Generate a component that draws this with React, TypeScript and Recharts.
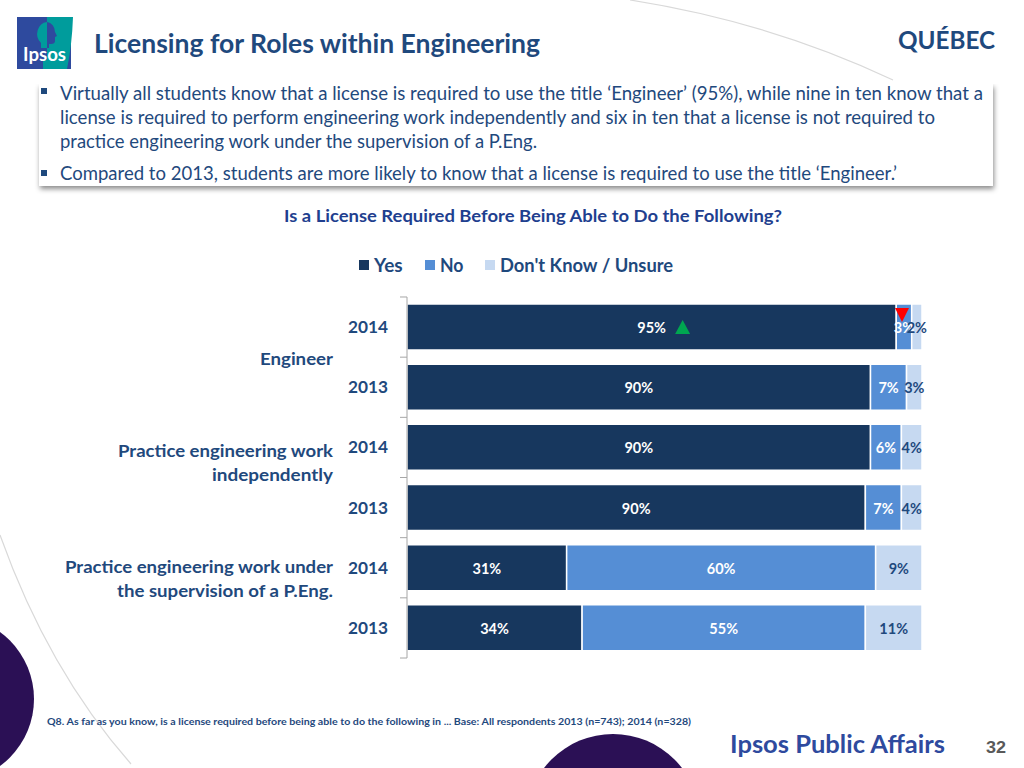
import React from 'react';
import { BarChart, Bar, XAxis, YAxis, Legend, LabelList } from 'recharts';

const ROWS = ['eng14', 'eng13', 'ind14', 'ind13', 'sup14', 'sup13'];
const YEARS = ['2014', '2013', '2014', '2013', '2014', '2013'];
const YES = [95, 90, 90, 89, 31, 34];
const NO = [3, 7, 6, 7, 60, 55];
const UNSURE = [2, 3, 4, 4, 9, 11];
// printed labels: the slide prints 90% on a bar drawn a little shorter
const YES_LABELS = [95, 90, 90, 90, 31, 34];
const NO_LABELS = NO;
const UNSURE_LABELS = UNSURE;
const UP_ROWS = ['eng14'];
const DOWN_ROWS = ['eng14'];

const tableData = ROWS.map((row, i) => ({ row, year: YEARS[i], yes: YES[i], no: NO[i], unsure: UNSURE[i] }));

const NAVY = '#17375E';
const BLUE = '#558ED5';
const PALE = '#C6D9F1';
const TEXT = '#1F497D';
const FONT = 'Lato, "Open Sans", sans-serif';
const ROW_HEIGHT = 60.17;

// svg text squeezed to the width it has in the slide (the original font is narrower than Lato)
const T = ({ x, y, w, size, bold, fill = TEXT, font = FONT, children }: any) => (
  <text x={x} y={y} textLength={w} lengthAdjust="spacingAndGlyphs" fontFamily={font} fontSize={size} fontWeight={bold ? 700 : 400} fill={fill}>
    {children}
  </text>
);

const YearTick = ({ x, y, payload, index }: any) => {
  const row = tableData.find(d => d.row === payload.value);
  return (
    <g>
      <line x1={x - 7} x2={x} y1={y - ROW_HEIGHT / 2} y2={y - ROW_HEIGHT / 2} stroke="#A6A6A6" />
      {index === ROWS.length - 1 && <line x1={x - 7} x2={x} y1={y + ROW_HEIGHT / 2} y2={y + ROW_HEIGHT / 2} stroke="#A6A6A6" />}
      <text x={x - 59} y={y + 6} textLength={40} lengthAdjust="spacingAndGlyphs" fontFamily={FONT} fontSize={17} fontWeight={700} fill={TEXT}>
        {row?.year}
      </text>
    </g>
  );
};

const makeLabel = (color: string, key: 'yes' | 'no' | 'unsure', labels: number[]) => ({ x, y, width, height, index }: any) => {
  const cx = x + width / 2;
  const cy = y + height / 2;
  const row = ROWS[index];
  return (
    <g>
      <text x={cx} y={cy + 6} textAnchor="middle" fontFamily={FONT} fontSize={14.5} fontWeight={700} fill={color}>
        {`${labels[index]}%`}
      </text>
      {key === 'yes' && UP_ROWS.includes(row) && (
        <path d={`M${cx + 31} ${cy - 7} l7.5 14 h-15 z`} fill="#00A650" />
      )}
      {key === 'no' && DOWN_ROWS.includes(row) && (
        <path d={`M${cx - 9} ${cy - 19} h14 l-7 14 z`} fill="#FF0000" />
      )}
    </g>
  );
};

const LegendRow = ({ payload }: any) => (
  <div style={{ display: 'flex', fontFamily: FONT, fontSize: 19, fontWeight: 700, color: TEXT, lineHeight: '20px' }}>
    {(payload || []).map((entry: any, i: number) => (
      <div key={entry.value} style={{ display: 'flex', alignItems: 'center', marginRight: [22, 21, 0][i] }}>
        <span style={{ width: 10, height: 10, background: entry.color, marginRight: 5, display: 'block' }} />
        <span style={{ display: 'inline-block', width: [29, 24, 174][i], whiteSpace: 'nowrap' }}>
          <span style={{ display: 'inline-block', transformOrigin: 'left', transform: `scaleX(${[1, 0.93, 0.965][i]})` }}>{entry.value}</span>
        </span>
      </div>
    ))}
  </div>
);

export default function App() {
  return (
    <div style={{ position: 'absolute', left: 0, top: 0, width: 1024, height: 768, overflow: 'hidden', background: '#fff' }}>
      <svg width={1024} height={768} style={{ position: 'absolute', left: 0, top: 0 }}>
        <path d="M630 0 Q770 22 893 80" fill="none" stroke="#D9D9D9" strokeWidth={1.2} />
        <path d="M0 535 Q48 670 131 764" fill="none" stroke="#D9D9D9" strokeWidth={1.2} />
        <circle cx={-49} cy={699} r={83} fill="#2B1055" />
        <circle cx={613} cy={821} r={87} fill="#2B1055" />
      </svg>

      <div
        style={{
          position: 'absolute', left: 39, top: 84, width: 954, height: 102, background: '#fff',
          boxShadow: '1px 3px 5px rgba(0,0,0,0.45)', clipPath: 'inset(0 -10px -10px -10px)',
        }}
      />

      <BarChart
        width={1024}
        height={768}
        data={tableData}
        layout="vertical"
        margin={{ top: 297, right: 102, bottom: 110, left: 347 }}
        style={{ position: 'absolute', left: 0, top: 0 }}
      >
        <XAxis type="number" domain={[0, 100]} hide />
        <YAxis type="category" dataKey="row" width={60} stroke="#A6A6A6" tickLine={false} tickSize={0} tickMargin={0} tick={<YearTick />} interval={0} />
        <Legend content={<LegendRow />} itemSorter={null} wrapperStyle={{ left: 359, top: 255, width: 340, height: 0 }} />
        <Bar dataKey="yes" name="Yes" stackId="a" fill={NAVY} stroke="#fff" strokeWidth={1.5} barSize={46} isAnimationActive={false}>
          <LabelList dataKey="yes" content={makeLabel('#fff', 'yes', YES_LABELS)} />
        </Bar>
        <Bar dataKey="no" name="No" stackId="a" fill={BLUE} stroke="#fff" strokeWidth={1.5} barSize={46} isAnimationActive={false}>
          <LabelList dataKey="no" content={makeLabel('#fff', 'no', NO_LABELS)} />
        </Bar>
        <Bar dataKey="unsure" name="Don't Know / Unsure" stackId="a" fill={PALE} stroke="#fff" strokeWidth={1.5} barSize={46} isAnimationActive={false}>
          <LabelList dataKey="unsure" content={makeLabel(TEXT, 'unsure', UNSURE_LABELS)} />
        </Bar>
      </BarChart>

      <svg width={1024} height={768} style={{ position: 'absolute', left: 0, top: 0, pointerEvents: 'none' }}>
        {/* logo */}
        <rect x={17} y={17} width={54} height={52} fill="#2E4A9E" />
        <path d="M47 17 H73 Q72 45 67 69 H43 L43 60 H47 Z" fill="#009C9C" />
        <path d="M47 22 a11 12 0 0 0 -6 21 v5 h6 z" fill="#009C9C" />
        <path d="M47 22 a9 10 0 0 1 8 10 l2 4 -2 1 v4 q0 3 -4 3 h-2 v4 h-2 z" fill="#2E4A9E" />
        <T x={23} y={61} w={43} size={18} bold fill="#fff">Ipsos</T>

        <T x={94} y={53} w={446} size={26} bold>Licensing for Roles within Engineering</T>
        <T x={898} y={49} w={97} size={25} bold>QUÉBEC</T>

        <rect x={41} y={88} width={6} height={6} fill={TEXT} />
        <rect x={41} y={170} width={6} height={6} fill={TEXT} />
        <T x={60} y={100} w={923} size={18.5}>Virtually all students know that a license is required to use the title ‘Engineer’ (95%), while nine in ten know that a</T>
        <T x={60} y={124} w={875} size={18.5}>license is required to perform engineering work independently and six in ten that a license is not required to</T>
        <T x={60} y={148} w={477} size={18.5}>practice engineering work under the supervision of a P.Eng.</T>
        <T x={60} y={180} w={837} size={18.5}>Compared to 2013, students are more likely to know that a license is required to use the title ‘Engineer.’</T>

        <T x={284} y={222} w={498} size={17} bold fill="#1F3F8F">Is a License Required Before Being Able to Do the Following?</T>

        <T x={260} y={365} w={73} size={17} bold>Engineer</T>
        <T x={118} y={457} w={215} size={17} bold>Practice engineering work</T>
        <T x={212} y={481} w={121} size={17} bold>independently</T>
        <T x={65} y={573} w={268} size={17} bold>Practice engineering work under</T>
        <T x={117} y={597} w={216} size={17} bold>the supervision of a P.Eng.</T>

        <T x={47} y={725} w={644} size={10} bold>Q8. As far as you know, is a license required before being able to do the following in ... Base: All  respondents 2013 (n=743); 2014 (n=328)</T>
        <T x={730} y={753} w={215} size={25} bold fill="#2E4A9E">Ipsos Public Affairs</T>
        <T x={986} y={753} w={20} size={16} bold fill="#595959" font='"Liberation Sans", Arial, sans-serif'>32</T>
      </svg>
    </div>
  );
}
